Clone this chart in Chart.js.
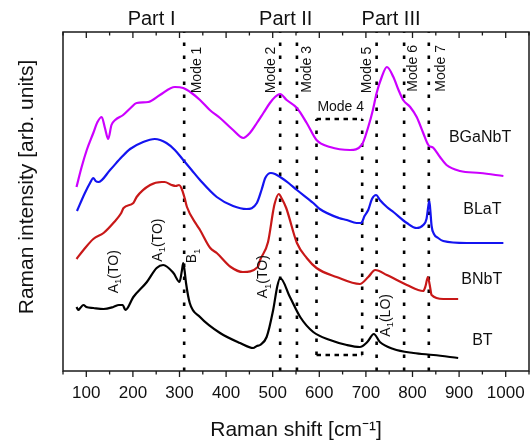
<!DOCTYPE html>
<html><head><meta charset="utf-8">
<script src="https://cdn.jsdelivr.net/npm/chart.js@4/dist/chart.umd.min.js"></script>
<style>html,body{margin:0;padding:0;background:#fff;overflow:hidden}</style>
</head><body>
<canvas id="c" width="531" height="441" style="width:531px;height:441px;display:block"></canvas>
<script>
// ---------- data (Raman shift in cm^-1, intensity in arb. units incl. vertical offset) ----------
const shiftBGaNbT = [79,90,101,115,124,133,140,147,154,162,179,195,208,233,258,290,308,326,344,365,387,415,437,451,466,480,494,505,516,530,552,573,594,623,666,691,705,715,723,734,745,759,770,780,795,809,823,834,845,859,873,902,945,995];
const intBGaNbT   = [184,204,221,238,249,254,243,232,246,251,256,263,268,269,276,284,283,278,271,261,253,241,233,238,248,258,268,274,277,271,263,248,231,224,221,226,244,261,278,294,304,294,281,271,264,254,238,226,223,214,206,200,198,195];

const shiftBLaT = [80,97,108,115,120,126,151,176,194,222,247,272,290,308,326,344,380,415,444,466,476,484,496,505,516,534,552,587,601,642,659,680,690,697,705,713,722,730,745,759,788,809,823,830,834,836,838,841,846,855,866,916,995];
const intBLaT   = [160,178,188,193,190,189,201,214,222,229,232,228,221,211,201,191,174,165,162,168,181,193,198,197,194,188,181,168,162,153,151,148,148,155,161,172,176,171,164,159,148,143,146,152,165,170,162,145,137,133,130,128,128];

const shiftBNbT = [79,94,115,137,158,175,180,201,208,237,262,268,283,292,299,304,311,316,337,344,366,380,410,436,468,473,490,501,504,513,520,529,552,573,594,637,687,705,720,745,788,823,828,833,837,841,866,898];
const intBNbT   = [112,121,132,138,148,158,163,168,174,186,189,189,186,185,186,183,173,164,146,141,123,118,104,99,104,111,129,160,167,177,172,163,128,113,103,94,87,94,101,96,86,80,85,94,86,76,72,72];

const shiftBT = [79,83,87,94,100,115,137,158,170,178,184,201,230,251,265,287,300,305,308,311,314,322,344,387,430,458,466,473,487,501,510,516,537,559,587,623,659,687,703,717,730,759,802,845,898];
const intBT   = [64,61,63,66,64,63,62,64,66,66,61,74,89,103,106,98,89,100,108,100,88,68,54,38,28,23,25,26,34,61,85,93,74,54,39,31,26,24,29,37,29,22,18,16,13];

const seriesNames = ['BGaNbT','BLaT','BNbT','BT'];
const modeShifts = [310, 516, 552, 723, 782, 835];
const modeNames  = ['Mode 1','Mode 2','Mode 3','Mode 5','Mode 6','Mode 7'];
const mode4Range = [594, 692];
const xTickValues = [100,200,300,400,500,600,700,800,900,1000];

// ---------- styles / layout (kept apart from data) ----------
const FONT = '"Liberation Sans", Arial, Helvetica, sans-serif';
Chart.defaults.font.family = FONT;
const colors = {BGaNbT:'#cc00ff', BLaT:'#1414f0', BNbT:'#c81818', BT:'#000000'};
const Y_MAX = 339;
const box = {lo:16, hi:252};

const pts = (xs, ys) => xs.map((v,i)=>({x:v, y:ys[i]}));
const curveData = {
  BGaNbT: pts(shiftBGaNbT, intBGaNbT),
  BLaT: pts(shiftBLaT, intBLaT),
  BNbT: pts(shiftBNbT, intBNbT),
  BT: pts(shiftBT, intBT)
};

const datasets = [];
seriesNames.forEach(n=>{
  datasets.push({label:n, data:curveData[n], borderColor:colors[n], borderWidth:2.2,
    pointRadius:0, cubicInterpolationMode:'monotone', fill:false, order:0});
});
const vDash = {borderColor:'#000', borderWidth:2.6, borderDash:[3.5,9.5], pointRadius:0, fill:false, order:5, borderCapStyle:'butt'};
modeShifts.forEach((v,i)=>{
  datasets.push(Object.assign({label:modeNames[i], data:[{x:v,y:0},{x:v,y:Y_MAX}]}, vDash));
});
mode4Range.forEach((v,i)=>{
  datasets.push(Object.assign({label:'Mode 4 side '+i, data:[{x:v,y:box.lo},{x:v,y:box.hi}]}, vDash));
});
const hDash = {borderColor:'#000', borderWidth:2.6, borderDash:[4.5,4.5], pointRadius:0, fill:false, order:5, borderCapStyle:'butt'};
[box.lo, box.hi].forEach((yv,i)=>{
  datasets.push(Object.assign({label:'Mode 4 edge '+i, data:[{x:mode4Range[0],y:yv},{x:mode4Range[1],y:yv}]}, hDash));
});

// annotation placements (data coordinates)
const partLabels = [['Part I',240,351.5],['Part II',528,351.5],['Part III',754,351.5]];
const modeLabelPos = [[338.6,277.7],[496.4,277.7],[573.6,278.3],[702.4,277.7],[801,279.3],[861,279.3]];
const mode4LabelPos = [646, 263.5];
const seriesLabelPos = {BGaNbT:[945,233], BLaT:[950,161], BNbT:[948.5,91], BT:[950,30]};
const peakLabels = [
  {parts:[['A'],['1','sub'],['(TO)']], x:159, y:77.7},
  {parts:[['A'],['1','sub'],['(TO)']], x:253.4, y:109.3},
  {parts:[['B'],['1','sub']], x:327.9, y:107.7},
  {parts:[['A'],['1','sub'],['(TO)']], x:480.3, y:72.7},
  {parts:[['A'],['1','sub'],['(LO)']], x:743, y:34.3}
];

function richText(ctx, parts, x, y, rot, size, align){
  ctx.save();
  ctx.translate(x,y); ctx.rotate(rot);
  ctx.textBaseline='middle'; ctx.textAlign='left';
  let w = 0;
  const m = parts.map(p=>{
    const s = p[1] ? size*0.68 : size;
    ctx.font = s+'px '+FONT;
    const pw = ctx.measureText(p[0]).width; w += pw;
    return {t:p[0], s, pw, kind:p[1]};
  });
  let cx = align==='center' ? -w/2 : (align==='right' ? -w : 0);
  m.forEach(p=>{
    ctx.font = p.s+'px '+FONT;
    const dy = p.kind==='sub' ? size*0.32 : (p.kind==='sup' ? -size*0.36 : 0);
    ctx.fillText(p.t, cx, dy);
    cx += p.pw;
  });
  ctx.restore();
}

const figPlugin = {
  id:'fig',
  afterDraw(chart){
    const {ctx, chartArea:a, scales:{x, y}} = chart;
    ctx.save();
    ctx.strokeStyle = '#1a1a1a'; ctx.lineWidth = 1.5;
    ctx.strokeRect(a.left, a.top, a.right-a.left, a.bottom-a.top);
    ctx.lineWidth = 1.3;
    x.ticks.forEach(t=>{
      const px = x.getPixelForValue(t.value);
      const major = t.value % 100 === 0;
      const L = major ? 6 : 3.5;
      ctx.beginPath();
      ctx.moveTo(px, a.bottom); ctx.lineTo(px, a.bottom + L);
      ctx.moveTo(px, a.top); ctx.lineTo(px, a.top + L);
      ctx.stroke();
    });
    ctx.fillStyle = '#111';
    partLabels.forEach(([t,vx,vy])=>richText(ctx, [[t]], x.getPixelForValue(vx), y.getPixelForValue(vy), 0, 20, 'center'));
    modeNames.forEach((t,i)=>{
      const [vx,vy] = modeLabelPos[i];
      richText(ctx, [[t]], x.getPixelForValue(vx), y.getPixelForValue(vy), -Math.PI/2, 14, 'left');
    });
    richText(ctx, [['Mode 4']], x.getPixelForValue(mode4LabelPos[0]), y.getPixelForValue(mode4LabelPos[1]), 0, 14, 'center');
    seriesNames.forEach(n=>{
      const [vx,vy] = seriesLabelPos[n];
      richText(ctx, [[n]], x.getPixelForValue(vx), y.getPixelForValue(vy), 0, 16, 'center');
    });
    peakLabels.forEach(p=>richText(ctx, p.parts, x.getPixelForValue(p.x), y.getPixelForValue(p.y), -Math.PI/2, 14, 'left'));
    richText(ctx, [['Raman intensity [arb. units]']], a.left - 36, (a.top+a.bottom)/2 - 14.5, -Math.PI/2, 21, 'center');
    ctx.restore();
  }
};

new Chart(document.getElementById('c'), {
  type:'line',
  data:{datasets},
  options:{
    responsive:false, animation:false, devicePixelRatio:1,
    layout:{padding:{left:63, right:2, top:32, bottom:0}},
    plugins:{legend:{display:false}, tooltip:{enabled:false}},
    elements:{point:{radius:0}},
    scales:{
      x:{
        type:'linear', min:50, max:1050,
        afterFit(s){ s.height = 70; s.paddingLeft = 0; s.paddingRight = 0; },
        grid:{display:false, drawTicks:false},
        border:{display:false},
        ticks:{stepSize:50, autoSkip:false, maxRotation:0, minRotation:0, padding:12, color:'#111', font:{size:17},
          callback:(v)=> xTickValues.includes(v) ? String(v) : ''},
        title:{display:true, text:'Raman shift [cm⁻¹]', color:'#111', font:{size:21, lineHeight:1}, padding:{top:0.5, bottom:0}}
      },
      y:{type:'linear', display:false, min:0, max:Y_MAX}
    }
  },
  plugins:[figPlugin]
});
</script>
</body></html>
